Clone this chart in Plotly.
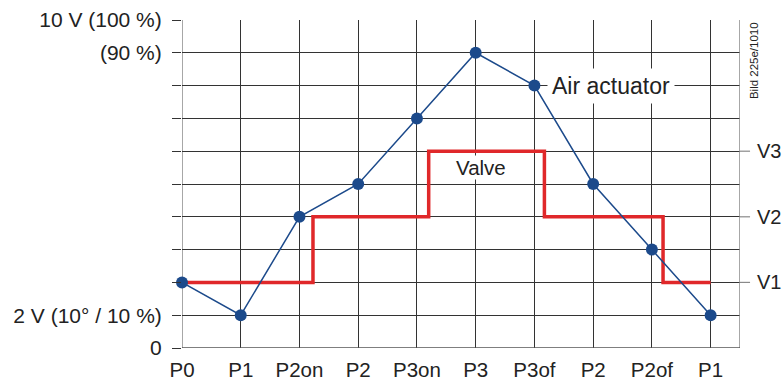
import plotly.graph_objects as go

# Sequence of operating points along the x axis
point_labels = ["P0", "P1", "P2on", "P2", "P3on", "P3", "P3of", "P2", "P2of", "P1"]
point_pos = list(range(len(point_labels)))

# Air actuator signal level (grid units, 10 = 10 V / 100 %)
actuator_level = [2, 1, 4, 5, 7, 9, 8, 5, 3, 1]

# Valve stage as a step function (switching positions and levels)
valve_x = [0, 2.23, 4.2, 6.17, 8.19, 9]
valve_y = [2, 4, 6, 4, 2, 2]

# Y tick labels on the left and valve stage labels on the right
left_tick_vals = [0, 1, 9, 10]
left_tick_text = ["0", "2 V (10° / 10 %)", "(90 %)", "10 V (100 %)"]
stage_vals = [2, 4, 6]
stage_text = ["V1", "V2", "V3"]

FONT = "Liberation Sans, Arial, sans-serif"
GRID = "#333333"
BORDER = "#8a8a8a"
BLUE = "#1c4a8b"
RED = "#e0282a"
TEXT = "#222222"

fig = go.Figure()

fig.add_trace(go.Scatter(
    x=valve_x, y=valve_y, mode="lines", line_shape="hv",
    line=dict(color=RED, width=3.5), hoverinfo="skip", showlegend=False,
))
fig.add_trace(go.Scatter(
    x=point_pos, y=actuator_level, mode="lines+markers",
    line=dict(color=BLUE, width=1.5),
    marker=dict(color=BLUE, size=12),
    cliponaxis=False, showlegend=False,
))

ytext = {v: t for v, t in zip(left_tick_vals, left_tick_text)}
fig.update_yaxes(
    range=[0, 10], tickvals=list(range(11)),
    ticktext=[ytext.get(v, "") for v in range(11)],
    ticks="outside", ticklen=9, tickcolor=GRID, tickwidth=1,
    showgrid=True, gridcolor=GRID, gridwidth=1,
    zeroline=False, showline=False, automargin=False,
    tickfont=dict(family=FONT, size=21, color=TEXT),
    ticklabelstandoff=6,
)
fig.update_xaxes(
    range=[0, 9.5], tickvals=point_pos, ticktext=point_labels,
    ticks="", showgrid=True, gridcolor=GRID, gridwidth=1,
    zeroline=False, showline=False, automargin=False,
    tickfont=dict(family=FONT, size=20.5, color=TEXT),
    ticklabelstandoff=7,
)

# Frame: gray left/right edges, dark bottom line
fig.add_shape(type="line", xref="x", yref="paper", x0=0, x1=0, y0=0, y1=1,
              line=dict(color=BORDER, width=1.5), layer="below")
fig.add_shape(type="line", xref="x", yref="paper", x0=9.5, x1=9.5, y0=0, y1=1,
              line=dict(color=BORDER, width=1.5))
fig.add_shape(type="line", xref="paper", yref="y", x0=0, x1=1, y0=0, y1=0,
              line=dict(color="#555", width=1.5))

# Stage ticks and labels on the right
for v, t in zip(stage_vals, stage_text):
    fig.add_shape(type="line", xref="paper", yref="y", x0=1, x1=1.018, y0=v, y1=v,
                  line=dict(color=BORDER, width=1.2))
    fig.add_annotation(x=1.027, xref="paper", y=v, yref="y", text=t, showarrow=False,
                       xanchor="left", font=dict(family=FONT, size=20, color=TEXT))

fig.add_annotation(x=7.31, y=8, text="Air actuator", showarrow=False,
                   bgcolor="white", borderpad=4,
                   font=dict(family=FONT, size=23, color=TEXT))
fig.add_annotation(x=5.09, y=5.5, text="Valve", showarrow=False,
                   bgcolor="white", borderpad=0,
                   font=dict(family=FONT, size=20.5, color=TEXT))
fig.add_annotation(x=1.01, xref="paper", y=1.0, yref="paper", text="Bild 225e/1010",
                   showarrow=False, textangle=-90, xanchor="left", yanchor="top",
                   font=dict(family=FONT, size=11.5, color=TEXT))

fig.update_layout(
    width=783, height=382,
    margin=dict(l=182, r=43, t=20, b=34),
    paper_bgcolor="white", plot_bgcolor="white",
    font=dict(family=FONT),
)

fig.write_html("out.html")
